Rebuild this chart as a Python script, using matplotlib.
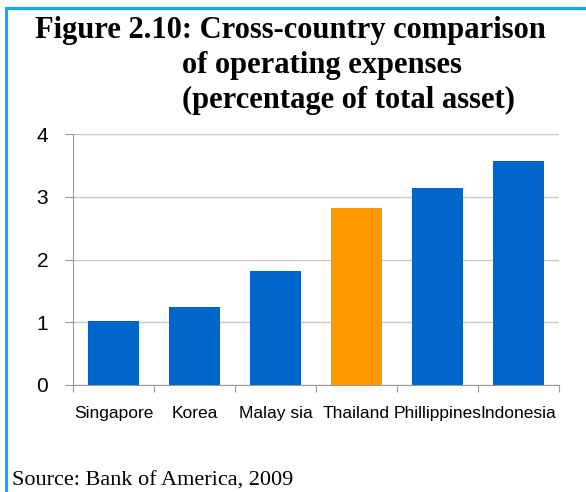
import matplotlib.pyplot as plt
from matplotlib.lines import Line2D
import numpy as np

# operating expenses as % of total assets
countries = ["Singapore", "Korea", "Malay sia", "Thailand", "Phillippines", "Indonesia"]
expenses = [1.02, 1.24, 1.82, 2.82, 3.14, 3.57]
colors = ["#0066CC", "#0066CC", "#0066CC", "#FF9900", "#0066CC", "#0066CC"]

fig = plt.figure(figsize=(5.86, 4.92), dpi=100)
W, H = 586, 492

# page frame (left and top edge)
fig.add_artist(Line2D([6 / W, 6 / W], [0, 1 - 8 / H], color="#00B0F0", lw=2.2))
fig.add_artist(Line2D([6 / W, 1], [1 - 8 / H, 1 - 8 / H], color="#00B0F0", lw=2.2))

ax = fig.add_axes([73 / W, 1 - 385 / H, (559 - 73) / W, (385 - 134) / H])
x = np.arange(len(countries))
ax.bar(x, expenses, width=0.64, color=colors, zorder=3)

ax.set_xlim(-0.5, len(countries) - 0.5)
ax.set_ylim(0, 4)
ax.set_yticks([0, 1, 2, 3, 4])
ax.set_yticklabels(["0", "1", "2", "3", "4"], fontsize=15, family="Liberation Sans")
ax.yaxis.grid(True, color="#C8C8C8", lw=1, zorder=0)

# category labels between boundary ticks
ax.set_xticks(np.arange(len(countries) + 1) - 0.5)
ax.set_xticklabels([])
ax.set_xticks(x, minor=True)
ax.set_xticklabels(countries, minor=True, fontsize=12.5, family="Liberation Sans")
ax.tick_params(axis="x", which="minor", length=0, pad=15)
ax.tick_params(axis="x", which="major", length=5, color="#999999", direction="out")
ax.tick_params(axis="y", length=6, color="#999999", pad=12)

for side in ["top", "right"]:
    ax.spines[side].set_visible(False)
for side in ["left", "bottom"]:
    ax.spines[side].set_color("#999999")

title_font = dict(family="Liberation Serif", fontweight="bold", fontsize=22)
fig.text(35 / W, 1 - 38 / H, "Figure 2.10: Cross-country comparison", **title_font)
fig.text(182 / W, 1 - 73 / H, "of operating expenses", **title_font)
fig.text(182 / W, 1 - 108 / H, "(percentage of total asset)", **title_font)

fig.text(12 / W, 1 - 486 / H, "Source: Bank of America, 2009",
         family="Liberation Serif", fontsize=16)

fig.savefig("out.png", dpi=100)
